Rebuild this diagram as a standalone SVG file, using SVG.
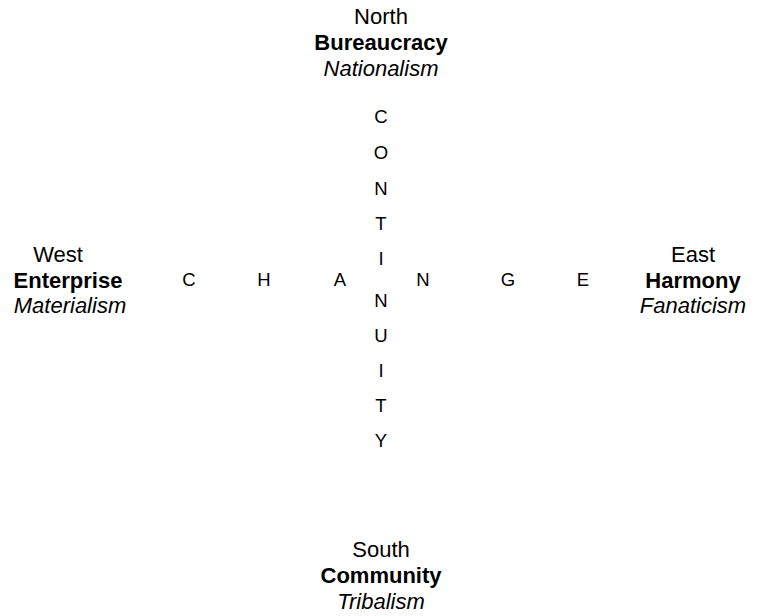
<svg xmlns="http://www.w3.org/2000/svg" width="760" height="616" viewBox="0 0 760 616">
<style>
text{font-family:"Liberation Sans",Arial,Helvetica,sans-serif;fill:#000;}
.lbl{font-size:22px;text-anchor:middle;}
.b{font-weight:bold;}
.i{font-style:italic;}
.ltr{font-size:18.5px;text-anchor:middle;}
</style>
<rect width="760" height="616" fill="#fff"/>
<g id="north">
<text class="lbl" x="381" y="24">North</text>
<text class="lbl b" x="381" y="50">Bureaucracy</text>
<text class="lbl i" x="381" y="76">Nationalism</text>
</g>
<g id="south">
<text class="lbl" x="381" y="557">South</text>
<text class="lbl b" x="381" y="583">Community</text>
<text class="lbl i" x="381" y="609">Tribalism</text>
</g>
<g id="west">
<text class="lbl" x="58" y="262">West</text>
<text class="lbl b" x="68" y="288">Enterprise</text>
<text class="lbl i" x="70" y="313">Materialism</text>
</g>
<g id="east">
<text class="lbl" x="693" y="262">East</text>
<text class="lbl b" x="693" y="288">Harmony</text>
<text class="lbl i" x="693" y="313">Fanaticism</text>
</g>
<g id="continuity">
<text class="ltr" x="381" y="123">C</text>
<text class="ltr" x="381" y="159">O</text>
<text class="ltr" x="381" y="195">N</text>
<text class="ltr" x="381" y="230">T</text>
<text class="ltr" x="381" y="265">I</text>
<text class="ltr" x="381" y="307">N</text>
<text class="ltr" x="381" y="342">U</text>
<text class="ltr" x="381" y="377">I</text>
<text class="ltr" x="381" y="412">T</text>
<text class="ltr" x="381" y="447">Y</text>
</g>
<g id="change">
<text class="ltr" x="189" y="286">C</text>
<text class="ltr" x="264" y="286">H</text>
<text class="ltr" x="340" y="286">A</text>
<text class="ltr" x="423" y="286">N</text>
<text class="ltr" x="508" y="286">G</text>
<text class="ltr" x="583" y="286">E</text>
</g>
<g id="connectors"/>
</svg>
